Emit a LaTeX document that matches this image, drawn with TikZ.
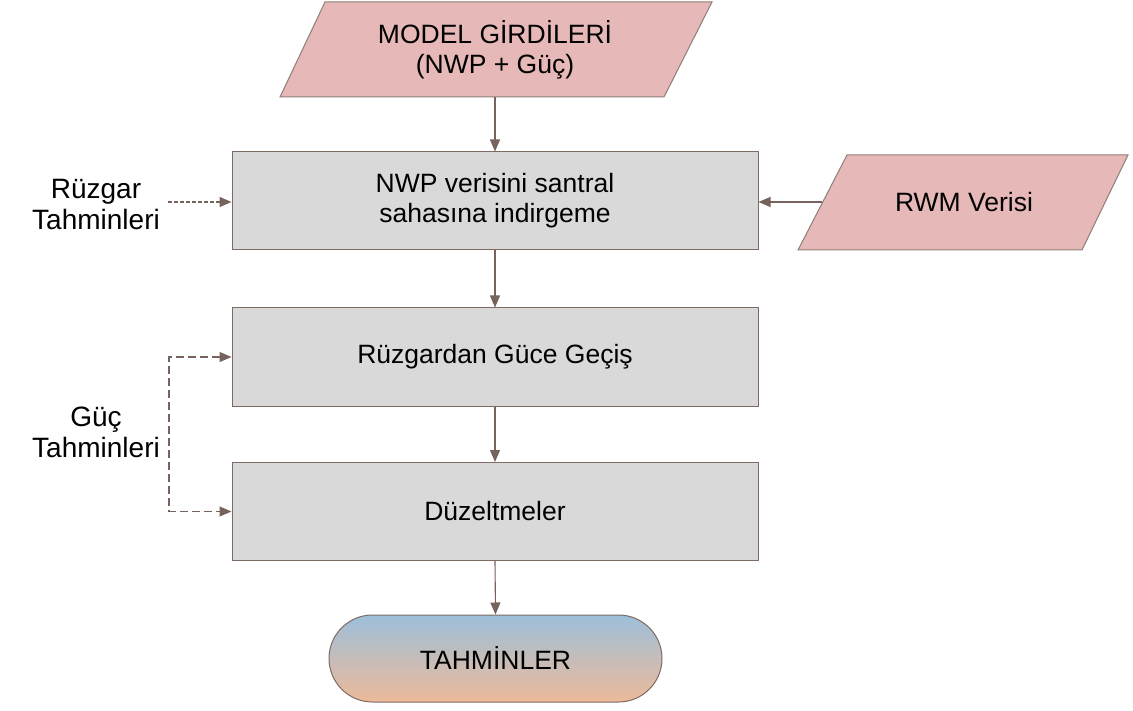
\documentclass[tikz,border=0pt]{standalone}
\usepackage{fontspec}
\setmainfont{Liberation Sans}
\usetikzlibrary{arrows.meta,calc}
\definecolor{pinkfill}{HTML}{E6B8B7}
\definecolor{pinkdraw}{HTML}{8E7E78}
\definecolor{boxfill}{HTML}{D9D9D9}
\definecolor{boxdraw}{HTML}{7E6A62}
\definecolor{arrowc}{HTML}{76635B}
\definecolor{termtop}{HTML}{9DBFDA}
\definecolor{termbot}{HTML}{EDBA99}
\tikzset{
  txt/.style={font=\fontsize{26.5}{30}\selectfont, align=center, text=black},
  sidetxt/.style={font=\fontsize{28}{31}\selectfont, align=center, text=black},
  procbox/.style={txt, draw=boxdraw, fill=boxfill, line width=1pt, minimum width=526pt, minimum height=98pt, inner sep=0pt},
  iobox/.style={fill=pinkfill, draw=pinkdraw, line width=1pt},
  flow/.style={draw=arrowc, line width=1.1pt, -{Triangle[length=12pt,width=10pt]}},
  dflowA/.style={flow, dash pattern=on 4pt off 2pt},
  dflowB/.style={flow, dash pattern=on 8pt off 4pt, {Triangle[length=12pt,width=10pt]}-{Triangle[length=12pt,width=10pt]}},
}
\begin{document}
\begin{tikzpicture}[x=1pt,y=-1pt]
\useasboundingbox (0,0) rectangle (1133,711);
% input parallelogram (top)
\path[iobox] (325,2) -- (712,2) -- (664,97) -- (280,97) -- cycle;
\node[txt, minimum height=95pt, inner sep=0pt] (inp) at (495,49.5) {MODEL GİRDİLERİ\\(NWP + Güç)};
% RWM parallelogram
\path[iobox] (847,155) -- (1128,155) -- (1082,250) -- (798,250) -- cycle;
\node[txt] (rwm) at (964,202) {RWM Verisi};
\coordinate (rwmL) at (822,202);
% process boxes
\node[procbox] (b1) at (495,201) {NWP verisini santral\\sahasına indirgeme};
\node[procbox] (b2) at (495,357) {Rüzgardan Güce Geçiş};
\node[procbox] (b3) at (495,511.5) {Düzeltmeler};
% terminal
\node[txt, draw=boxdraw, line width=1pt, top color=termtop, bottom color=termbot,
      minimum width=333pt, minimum height=87pt, rounded corners=43.5pt, inner sep=0pt] (term) at (495.5,658.5) {TAHMİNLER};
% side labels
\node[sidetxt] (rz) at (96,205) {Rüzgar\\Tahminleri};
\node[sidetxt] (gc) at (96,432) {Güç\\Tahminleri};
\coordinate (rzs) at (168,202);
\coordinate (gcv) at (169,435);
% connectors
\draw[flow] (inp.south) -- (b1.north);
\draw[flow] (b1) -- (b2);
\draw[flow] (b2) -- (b3);
\draw[flow] (b3.south) -- (term.north);
\draw[flow] (rwmL) -- (rwmL -| b1.east);
\draw[dflowA] (rzs) -- (rzs -| b1.west);
\draw[dflowB] (b2.west) -| (gcv) |- (b3.west);
\end{tikzpicture}
\end{document}
